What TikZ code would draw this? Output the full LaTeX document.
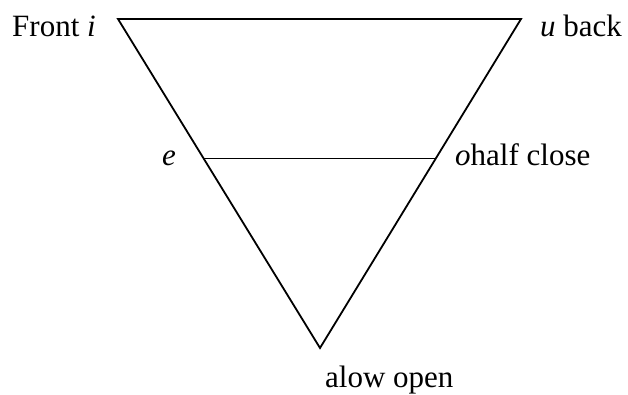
\documentclass[tikz,border=0pt]{standalone}
\usepackage{fontspec}
\setmainfont{Liberation Serif}
\usetikzlibrary{calc}
\begin{document}
\begin{tikzpicture}[x=1pt,y=-1pt,
  edge/.style={line width=1.8pt,line join=miter},
  lbl/.style={inner sep=0pt,anchor=base west,font=\fontsize{31}{37}\selectfont}]
\useasboundingbox (0,0) rectangle (628,395);
\coordinate (tl) at (118,19);
\coordinate (tr) at (521,19);
\coordinate (bt) at (320,348);
\coordinate (ml) at ($(tl)!0.424!(bt)$);
\coordinate (mr) at ($(tr)!0.424!(bt)$);
\draw[edge] (tl) -- (tr) -- (bt) -- cycle;
\draw[edge] (ml) -- (mr);
\node[lbl] (front) at (12,37) {Front \textit{i}};
\node[lbl] (back) at (540,37) {\textit{u} back};
\node[lbl] (e) at (162,166) {\textit{e}};
\node[lbl] (o) at (455,166) {\textit{o}half close};
\node[lbl] (a) at (325,387) {alow open};
\end{tikzpicture}
\end{document}
